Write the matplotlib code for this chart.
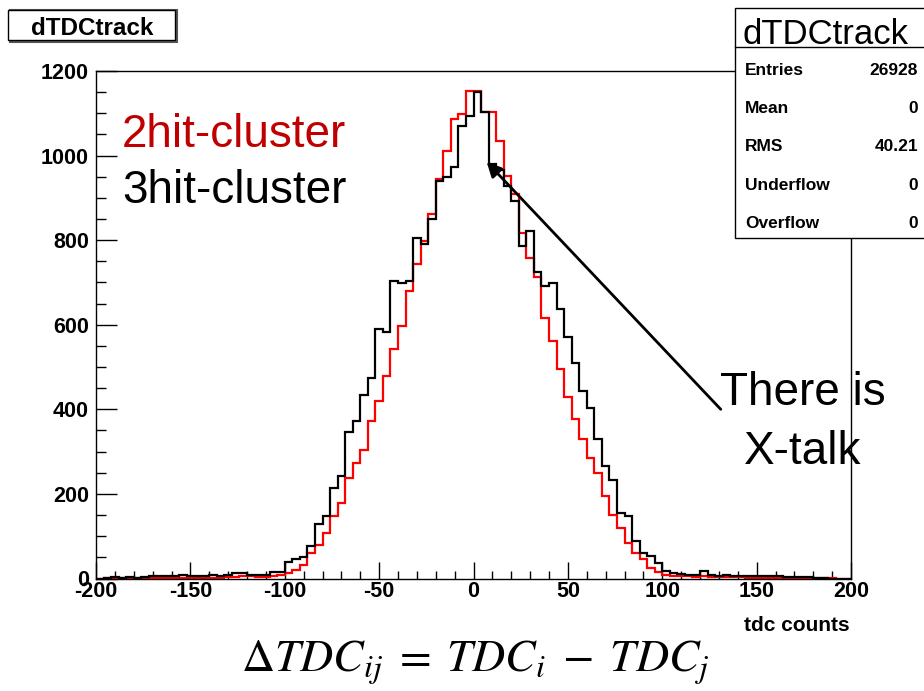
import numpy as np
import matplotlib
matplotlib.use("Agg")
import matplotlib.pyplot as plt
from matplotlib.patches import Rectangle
from matplotlib.lines import Line2D
from matplotlib.ticker import MultipleLocator

plt.rcParams["mathtext.fontset"] = "stix"
plt.rcParams["axes.unicode_minus"] = False

# histogram binning: 100 bins of 4 tdc counts from -200 to 200
bin_edges = np.arange(-200, 201, 4)

# bin contents, 2-hit clusters (red)
two_hit = [
    0, 1, 2, 2, 1, 1, 1, 1, 1, 1,
    2, 2, 1, 1, 2, 2, 2, 3, 4, 5,
    5, 4, 4, 5, 8, 12, 21, 33, 61, 80,
    108, 147, 179, 238, 274, 305, 372, 420, 479, 542,
    597, 680, 743, 798, 862, 944, 1011, 1086, 1098, 1153,
    1153, 1102, 1102, 1035, 952, 909, 818, 759, 712, 617,
    562, 495, 428, 376, 329, 286, 250, 195, 151, 120,
    84, 61, 45, 25, 15, 8, 6, 5, 5, 4,
    5, 4, 4, 3, 3, 3, 2, 2, 2, 2,
    1, 1, 2, 2, 1, 2, 1, 1, 0, 0,
]

# bin contents, 3-hit clusters (black)
three_hit = [
    0, 2, 3, 2, 3, 2, 4, 5, 6, 6,
    7, 8, 6, 5, 6, 8, 7, 9, 14, 14,
    8, 9, 8, 16, 16, 38, 45, 50, 76, 128,
    147, 215, 242, 346, 372, 435, 473, 589, 582, 704,
    698, 704, 804, 790, 850, 940, 950, 972, 1071, 1093,
    1150, 1102, 980, 965, 929, 893, 787, 822, 724, 692,
    698, 637, 570, 510, 443, 404, 329, 266, 234, 155,
    148, 88, 61, 53, 37, 17, 14, 10, 9, 9,
    17, 8, 7, 8, 6, 5, 5, 5, 6, 6,
    5, 4, 3, 3, 3, 2, 2, 0, 0, 0,
]

hist_name = "dTDCtrack"
stat_labels = ["Entries", "Mean", "RMS", "Underflow", "Overflow"]
stat_values = ["26928", "0", "40.21", "0", "0"]
series_names = ["2hit-cluster", "3hit-cluster"]
x_title = "tdc counts"

W, H = 924, 691
fig = plt.figure(figsize=(W / 100, H / 100), dpi=100)
fig.patch.set_facecolor("white")


def fx(px):
    return px / W


def fy(py):
    return 1 - py / H


ax = fig.add_axes([fx(96), fy(578.5), fx(851) - fx(96), fy(71) - fy(578.5)])
ax.stairs(two_hit, bin_edges, color="#ff0000", lw=1.6, baseline=0, zorder=2)
ax.stairs(three_hit, bin_edges, color="black", lw=1.6, baseline=0, zorder=3)
ax.set_xlim(-200, 200)
ax.set_ylim(0, 1200)

ax.xaxis.set_major_locator(MultipleLocator(50))
ax.xaxis.set_minor_locator(MultipleLocator(10))
ax.yaxis.set_major_locator(MultipleLocator(200))
ax.yaxis.set_minor_locator(MultipleLocator(50))
ax.tick_params(which="both", direction="in", top=False, right=False, width=1, color="black")
ax.tick_params(axis="x", which="major", length=12, pad=2)
ax.tick_params(axis="x", which="minor", length=5.5)
ax.tick_params(axis="y", which="major", length=15, pad=5)
ax.tick_params(axis="y", which="minor", length=7)
for lab in ax.get_xticklabels() + ax.get_yticklabels():
    lab.set_fontfamily("Liberation Sans")
    lab.set_fontweight("bold")
    lab.set_fontsize(15.5)
for sp in ax.spines.values():
    sp.set_linewidth(1.0)
    sp.set_color("black")

# axis title
fig.text(fx(850), fy(631), x_title, ha="right", va="baseline",
         fontfamily="Liberation Sans", fontweight="bold", fontsize=15)

# histogram title box
fig.add_artist(Rectangle((fx(10), fy(42)), fx(177) - fx(10), fy(10) - fy(42),
                         transform=fig.transFigure, fill=False, ec="#555555", lw=1.5))
fig.add_artist(Rectangle((fx(8), fy(40)), fx(175) - fx(8), fy(10) - fy(40),
                         transform=fig.transFigure, fc="white", ec="black", lw=1))
fig.text(fx(92), fy(35), hist_name, ha="center", va="baseline",
         fontfamily="Liberation Sans", fontweight="bold", fontsize=17.5)

# statistics box
fig.add_artist(Rectangle((fx(735), fy(238)), fx(940) - fx(735), fy(8) - fy(238),
                         transform=fig.transFigure, fc="white", ec="black", lw=1, zorder=5))
fig.add_artist(Line2D([fx(735), fx(924)], [fy(47), fy(47)],
                      transform=fig.transFigure, color="black", lw=1, zorder=6))
fig.text(fx(743), fy(44), hist_name, ha="left", va="baseline",
         fontfamily="Liberation Sans", fontsize=25, zorder=7)
row_y = [75, 113, 151, 190, 228]
for ry, lab, val in zip(row_y, stat_labels, stat_values):
    fig.text(fx(745), fy(ry), lab, ha="left", va="baseline",
             fontfamily="Liberation Sans", fontweight="bold", fontsize=12.5, zorder=7)
    fig.text(fx(918), fy(ry), val, ha="right", va="baseline",
             fontfamily="Liberation Sans", fontweight="bold", fontsize=12.5, zorder=7)

# series labels
fig.text(fx(122), fy(147), series_names[0], ha="left", va="baseline",
         fontfamily="Liberation Sans", fontsize=33, color="#c00000")
fig.text(fx(122), fy(203), series_names[1], ha="left", va="baseline",
         fontfamily="Liberation Sans", fontsize=33, color="black")

# cross-talk annotation
ax.annotate("", xy=(7, 985), xytext=(131, 400),
            arrowprops=dict(arrowstyle="-|>", lw=2, color="black", mutation_scale=22,
                            shrinkA=0, shrinkB=0))
fig.text(fx(803), fy(405), "There is", ha="center", va="baseline",
         fontfamily="Liberation Sans", fontsize=33, color="black")
fig.text(fx(803), fy(464), "X-talk", ha="center", va="baseline",
         fontfamily="Liberation Sans", fontsize=33, color="black")

# definition of the plotted quantity
fig.text(fx(475), fy(672), r"$\Delta TDC_{ij} \;=\; TDC_i \;-\; TDC_j$", ha="center",
         va="baseline", fontsize=33)

fig.savefig("out.png", dpi=100)
